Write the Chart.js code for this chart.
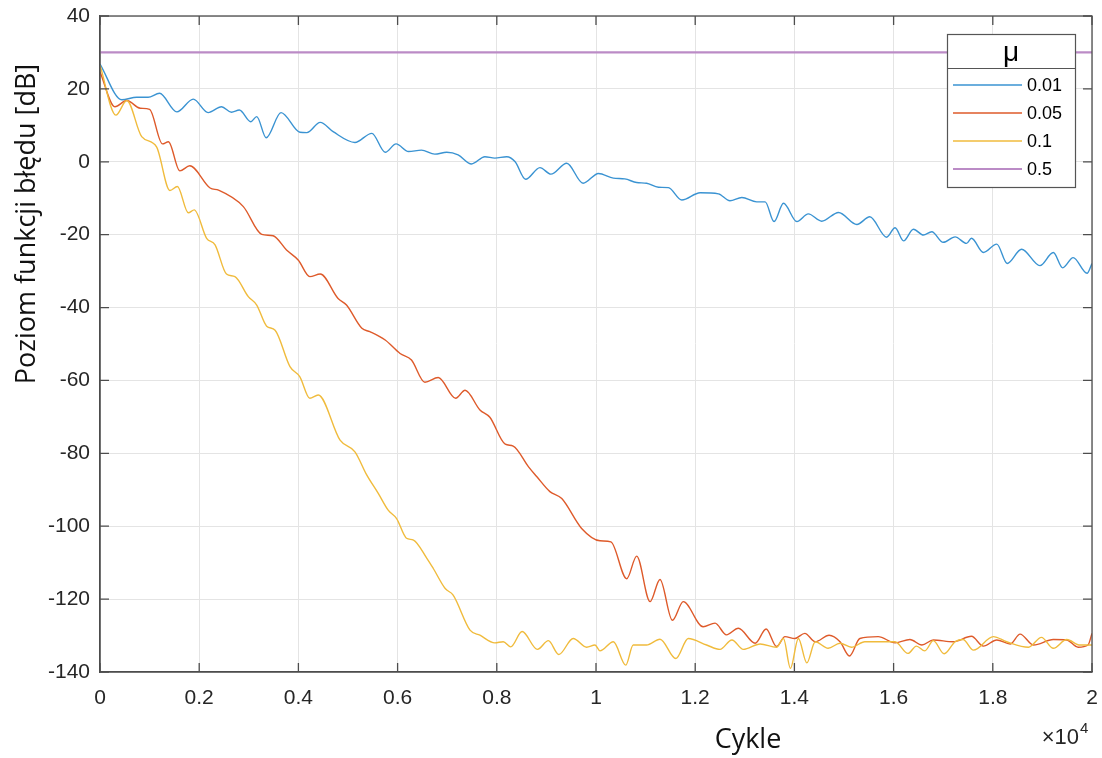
<!DOCTYPE html>
<html>
<head>
<meta charset="utf-8">
<script src="https://cdn.jsdelivr.net/npm/chart.js@4"></script>
<style>
html,body{margin:0;padding:0;background:#fff;}
canvas{display:block;}
</style>
</head>
<body>
<canvas id="c" width="1102" height="758"></canvas>
<script>
// ---- data (x in units of 10^4 cycles, y in dB) ----
const seriesLabels = ['0.01', '0.05', '0.1', '0.5'];
const legendTitle = 'μ';
const xTitle = 'Cykle';
const yTitle = 'Poziom funkcji błędu [dB]';
const xTickLabels = ['0', '0.2', '0.4', '0.6', '0.8', '1', '1.2', '1.4', '1.6', '1.8', '2'];
const yTickLabels = ['-140', '-120', '-100', '-80', '-60', '-40', '-20', '0', '20', '40'];

const mu001X = [0, 0.044, 0.074, 0.097, 0.12, 0.155, 0.188, 0.218, 0.245, 0.265, 0.281, 0.304, 0.316, 0.335, 0.365, 0.403, 0.417, 0.444, 0.47, 0.514, 0.548, 0.575, 0.597, 0.622, 0.648, 0.675, 0.699, 0.722, 0.749, 0.776, 0.796, 0.82, 0.837, 0.858, 0.887, 0.909, 0.941, 0.974, 1.005, 1.035, 1.058, 1.082, 1.102, 1.126, 1.146, 1.173, 1.21, 1.247, 1.27, 1.294, 1.324, 1.341, 1.359, 1.378, 1.405, 1.428, 1.455, 1.489, 1.526, 1.552, 1.586, 1.603, 1.62, 1.64, 1.66, 1.677, 1.7, 1.724, 1.747, 1.757, 1.781, 1.808, 1.829, 1.858, 1.895, 1.922, 1.941, 1.962, 1.99, 2.0];
const mu001Y = [26.8, 17.0, 17.7, 17.7, 18.8, 13.7, 17.2, 13.5, 15.1, 13.6, 14.2, 11.0, 12.4, 6.6, 13.5, 8.1, 8.0, 10.8, 8.25, 5.3, 7.8, 2.6, 4.9, 2.8, 3.2, 2.1, 2.6, 1.9, -0.6, 1.4, 1.0, 1.4, 0.0, -4.8, -1.6, -3.4, -0.4, -5.9, -3.2, -4.5, -4.7, -5.7, -5.9, -7.0, -7.1, -10.5, -8.5, -8.8, -10.7, -9.8, -11.0, -11.0, -16.4, -11.4, -16.4, -14.3, -16.3, -13.9, -17.2, -15.1, -20.7, -18.1, -21.7, -18.5, -20.1, -19.2, -22.1, -20.6, -22.4, -21.0, -24.9, -22.6, -27.9, -24.0, -28.5, -24.9, -29.1, -26.3, -30.6, -27.9];

const mu005X = [0, 0.03, 0.054, 0.081, 0.1, 0.126, 0.138, 0.161, 0.181, 0.222, 0.239, 0.289, 0.326, 0.349, 0.376, 0.4, 0.423, 0.444, 0.48, 0.497, 0.528, 0.544, 0.575, 0.605, 0.628, 0.655, 0.682, 0.717, 0.736, 0.766, 0.786, 0.817, 0.833, 0.864, 0.88, 0.907, 0.931, 0.971, 1.008, 1.03, 1.062, 1.082, 1.109, 1.129, 1.154, 1.176, 1.216, 1.24, 1.263, 1.287, 1.321, 1.343, 1.364, 1.381, 1.401, 1.421, 1.442, 1.47, 1.492, 1.511, 1.532, 1.569, 1.603, 1.633, 1.657, 1.68, 1.72, 1.757, 1.781, 1.808, 1.835, 1.855, 1.882, 1.922, 1.949, 1.972, 1.992, 2.0];
const mu005Y = [24.7, 15.1, 16.8, 14.7, 14.4, 4.9, 5.5, -2.5, -1.1, -7.2, -7.8, -12.3, -19.9, -20.3, -24.2, -27.0, -31.5, -30.8, -37.5, -39.3, -45.7, -46.6, -48.9, -52.6, -54.4, -60.5, -59.2, -64.9, -62.7, -68.1, -70.1, -77.5, -78.0, -83.7, -86.3, -90.5, -92.4, -100.6, -104.0, -104.3, -114.4, -108.2, -120.7, -114.6, -125.8, -120.7, -127.6, -126.6, -129.8, -128.0, -132.1, -128.2, -133.0, -130.3, -130.8, -129.4, -131.7, -129.9, -131.7, -135.6, -130.8, -130.3, -132.0, -131.1, -132.6, -131.2, -131.7, -130.2, -132.9, -131.2, -132.3, -129.6, -132.6, -131.1, -131.2, -133.2, -132.6, -129.4];

const mu01X = [0, 0.032, 0.054, 0.084, 0.114, 0.141, 0.156, 0.178, 0.19, 0.215, 0.232, 0.255, 0.272, 0.299, 0.316, 0.336, 0.353, 0.383, 0.403, 0.423, 0.44, 0.484, 0.514, 0.538, 0.561, 0.581, 0.598, 0.618, 0.632, 0.659, 0.672, 0.696, 0.712, 0.746, 0.766, 0.796, 0.813, 0.828, 0.851, 0.882, 0.904, 0.925, 0.954, 0.981, 0.998, 1.008, 1.035, 1.06, 1.075, 1.102, 1.129, 1.161, 1.186, 1.223, 1.25, 1.274, 1.297, 1.331, 1.364, 1.378, 1.392, 1.408, 1.425, 1.442, 1.468, 1.492, 1.515, 1.542, 1.603, 1.629, 1.646, 1.663, 1.68, 1.702, 1.724, 1.74, 1.761, 1.801, 1.828, 1.872, 1.898, 1.922, 1.949, 1.976, 2.0];
const mu01Y = [26.5, 12.8, 16.8, 6.9, 4.1, -7.9, -6.8, -14.0, -13.2, -21.0, -22.8, -30.8, -31.5, -37.0, -39.3, -45.1, -46.2, -56.2, -59.0, -64.9, -64.0, -76.4, -79.6, -86.0, -91.0, -95.6, -97.9, -103.3, -103.8, -108.8, -111.6, -117.1, -118.9, -128.5, -129.9, -132.0, -131.7, -133.1, -128.9, -133.8, -131.4, -135.2, -130.8, -133.2, -132.6, -134.2, -131.7, -138.1, -132.6, -132.6, -131.0, -136.3, -130.8, -132.6, -133.8, -131.2, -133.8, -132.3, -133.2, -130.8, -139.0, -130.8, -137.5, -131.7, -133.5, -132.1, -133.2, -131.7, -131.7, -134.9, -132.9, -134.2, -131.4, -135.0, -131.7, -131.1, -134.0, -130.3, -131.7, -133.2, -130.5, -133.5, -131.1, -132.6, -132.6];

const mu05X = [0, 2];
const mu05Y = [30, 30];

const seriesColors = ['#3a93d2', '#de5a2a', '#f0bb3c', '#bb8bc6'];

// ---- build chart ----
function pts(xs, ys) { return xs.map((x, i) => ({ x: x, y: ys[i] })); }
const seriesData = [pts(mu001X, mu001Y), pts(mu005X, mu005Y), pts(mu01X, mu01Y), pts(mu05X, mu05Y)];

const AXIS_COLOR = '#4d4d4d';
const TEXT_COLOR = '#262626';

const framePlugin = {
  id: 'frame',
  afterDraw(chart) {
    const ctx = chart.ctx;
    const a = chart.chartArea;
    const xs = chart.scales.x, ys = chart.scales.y;
    ctx.save();
    // frame
    ctx.strokeStyle = AXIS_COLOR;
    ctx.lineWidth = 1.3;
    ctx.strokeRect(a.left, a.top, a.right - a.left, a.bottom - a.top);
    // inner tick marks
    const L = 9;
    ctx.beginPath();
    xs.ticks.forEach(t => {
      const px = xs.getPixelForValue(t.value);
      ctx.moveTo(px, a.bottom); ctx.lineTo(px, a.bottom - L);
      ctx.moveTo(px, a.top); ctx.lineTo(px, a.top + L);
    });
    ys.ticks.forEach(t => {
      const py = ys.getPixelForValue(t.value);
      ctx.moveTo(a.left, py); ctx.lineTo(a.left + L, py);
      ctx.moveTo(a.right, py); ctx.lineTo(a.right - L, py);
    });
    ctx.stroke();

    // axis titles
    ctx.fillStyle = '#111';
    ctx.font = '27px "Open Sans"';
    ctx.textAlign = 'center';
    ctx.textBaseline = 'middle';
    ctx.fillText(xTitle, 748, 740);
    ctx.save();
    ctx.translate(27, 224);
    ctx.rotate(-Math.PI / 2);
    ctx.fillText(yTitle, 0, 0);
    ctx.restore();

    // exponent label
    ctx.fillStyle = TEXT_COLOR;
    ctx.textBaseline = 'alphabetic';
    ctx.textAlign = 'right';
    ctx.font = '22px "Liberation Sans"';
    ctx.fillText('×10', 1079, 744);
    ctx.textAlign = 'left';
    ctx.font = '15px "Liberation Sans"';
    ctx.fillText('4', 1080, 733);

    // legend
    const bx = 947, by = 34, bw = 128, bh = 153, hh = 34;
    ctx.fillStyle = '#fff';
    ctx.fillRect(bx, by, bw, bh);
    ctx.strokeStyle = '#555';
    ctx.lineWidth = 1.2;
    ctx.strokeRect(bx + 0.5, by + 0.5, bw, bh);
    ctx.beginPath();
    ctx.moveTo(bx, by + hh + 0.5); ctx.lineTo(bx + bw, by + hh + 0.5);
    ctx.stroke();
    ctx.fillStyle = '#000';
    ctx.font = '28px "Liberation Sans"';
    ctx.textAlign = 'center';
    ctx.textBaseline = 'middle';
    ctx.fillText(legendTitle, bx + bw / 2, by + hh / 2 + 2);
    ctx.font = '18px "Liberation Sans"';
    ctx.textAlign = 'left';
    chart.data.datasets.forEach((ds, i) => {
      const ry = 85 + i * 28;
      ctx.strokeStyle = ds.borderColor;
      ctx.lineWidth = ds.borderWidth;
      ctx.beginPath();
      ctx.moveTo(953, ry); ctx.lineTo(1022, ry);
      ctx.stroke();
      ctx.fillStyle = '#000';
      ctx.fillText(ds.label, 1027, ry + 1);
    });
    ctx.restore();
  }
};

new Chart(document.getElementById('c'), {
  type: 'line',
  data: {
    datasets: seriesData.map((d, i) => ({
      label: seriesLabels[i],
      data: d,
      borderColor: seriesColors[i],
      backgroundColor: seriesColors[i],
      borderWidth: i === 3 ? 2.2 : 1.4,
      pointRadius: 0,
      fill: false,
      cubicInterpolationMode: 'monotone',
      order: 4 - i
    }))
  },
  options: {
    responsive: false,
    animation: false,
    events: [],
    layout: { padding: { left: 0, right: 10, top: 16, bottom: 0 } },
    plugins: { legend: { display: false }, tooltip: { enabled: false } },
    scales: {
      x: {
        type: 'linear',
        min: 0, max: 2,
        afterFit(s) { s.height = 86; s.paddingLeft = 0; s.paddingRight = 0; },
        ticks: {
          stepSize: 0.2,
          padding: 14,
          color: TEXT_COLOR,
          font: { family: '"Liberation Sans"', size: 21 },
          maxRotation: 0,
          autoSkip: false,
          callback: (v, i) => xTickLabels[i]
        },
        grid: { color: '#e4e4e4', lineWidth: 1, drawTicks: false },
        border: { display: true, color: AXIS_COLOR, width: 1.3 },
        title: { display: false }
      },
      y: {
        type: 'linear',
        min: -140, max: 40,
        afterFit(s) { s.width = 100; s.paddingTop = 0; s.paddingBottom = 0; },
        ticks: {
          stepSize: 20,
          padding: 10,
          color: TEXT_COLOR,
          font: { family: '"Liberation Sans"', size: 21 },
          autoSkip: false,
          callback: (v, i) => yTickLabels[i]
        },
        grid: { color: '#e4e4e4', lineWidth: 1, drawTicks: false },
        border: { display: true, color: AXIS_COLOR, width: 1.3 },
        title: { display: false }
      }
    }
  },
  plugins: [framePlugin]
});
</script>
</body>
</html>
